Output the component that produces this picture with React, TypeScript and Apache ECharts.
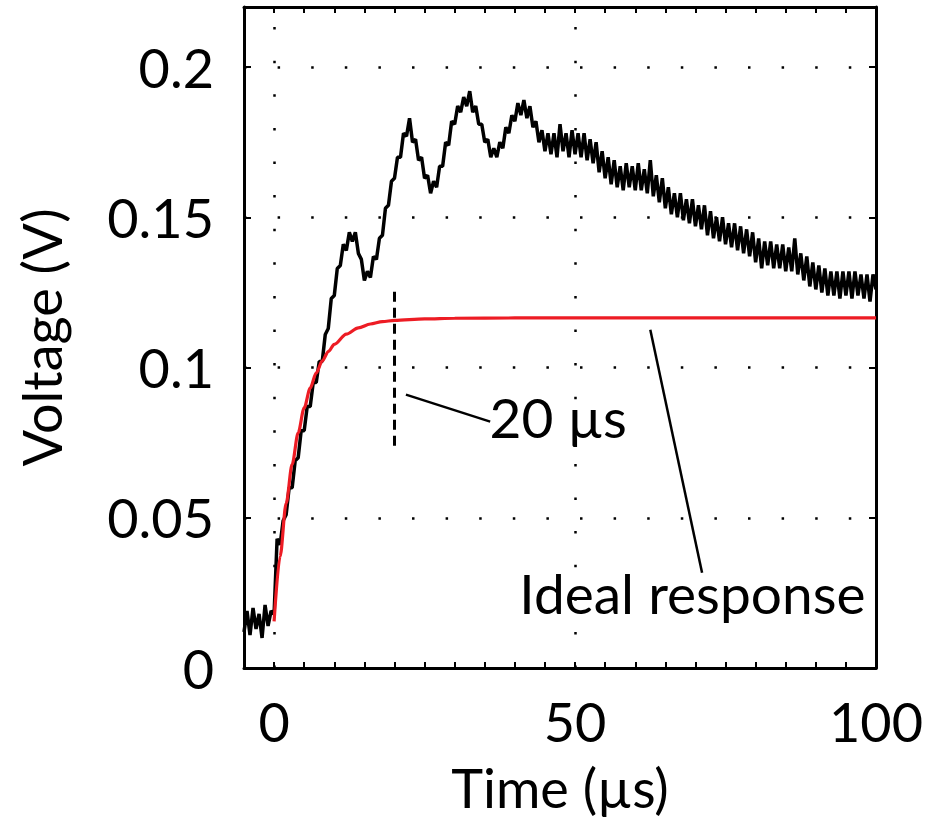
import React, { useEffect, useRef } from 'react';
import * as echarts from 'echarts';

// Measured trace, sampled every 0.5 µs from -5 µs
const sampleStartUs = -5;
const sampleStepUs = 0.5;
const measuredVoltage = [
  0.012, 0.019, 0.011, 0.020, 0.013, 0.018, 0.010, 0.021, 0.014, 0.019,
  0.018, 0.043, 0.041, 0.049, 0.051, 0.060, 0.060, 0.069, 0.070, 0.079,
  0.079, 0.087, 0.087, 0.095, 0.095, 0.102, 0.102, 0.111, 0.113, 0.123,
  0.124, 0.133, 0.134, 0.141, 0.139, 0.145, 0.142, 0.145, 0.138, 0.136,
  0.129, 0.132, 0.130, 0.137, 0.136, 0.143, 0.144, 0.153, 0.154, 0.162,
  0.163, 0.170, 0.170, 0.178, 0.177, 0.183, 0.175, 0.176, 0.169, 0.170,
  0.163, 0.164, 0.158, 0.162, 0.160, 0.167, 0.167, 0.175, 0.174, 0.182,
  0.181, 0.187, 0.185, 0.190, 0.187, 0.192, 0.185, 0.187, 0.181, 0.181,
  0.175, 0.176, 0.170, 0.173, 0.170, 0.175, 0.173, 0.180, 0.178, 0.184,
  0.182, 0.188, 0.184, 0.189, 0.183, 0.187, 0.180, 0.182, 0.175, 0.179,
  0.172, 0.178, 0.171, 0.178, 0.170, 0.181, 0.172, 0.178, 0.170, 0.179,
  0.171, 0.178, 0.170, 0.178, 0.169, 0.176, 0.168, 0.175, 0.165, 0.172,
  0.163, 0.170, 0.161, 0.169, 0.160, 0.167, 0.159, 0.168, 0.160, 0.167,
  0.159, 0.168, 0.159, 0.166, 0.158, 0.169, 0.157, 0.164, 0.155, 0.163,
  0.153, 0.160, 0.151, 0.158, 0.150, 0.158, 0.149, 0.156, 0.148, 0.156,
  0.147, 0.154, 0.146, 0.154, 0.144, 0.152, 0.143, 0.150, 0.142, 0.150,
  0.141, 0.148, 0.140, 0.148, 0.139, 0.147, 0.138, 0.146, 0.137, 0.145,
  0.135, 0.143, 0.133, 0.142, 0.134, 0.142, 0.133, 0.141, 0.133, 0.141,
  0.132, 0.140, 0.132, 0.143, 0.131, 0.138, 0.129, 0.137, 0.127, 0.135,
  0.126, 0.134, 0.125, 0.133, 0.124, 0.132, 0.124, 0.132, 0.123, 0.132,
  0.124, 0.132, 0.123, 0.132, 0.124, 0.131, 0.123, 0.131, 0.122, 0.131,
  0.126,
];

// Ideal response (red)
const idealTime = [0, 1, 2, 3, 4, 5, 6, 7, 8, 9, 10, 12, 14, 16, 18, 20, 25, 30, 40, 60, 100];
const idealVoltage = [
  0.0155, 0.0372, 0.0548, 0.0678, 0.0783, 0.0866, 0.0932, 0.0982, 0.1022, 0.1053,
  0.1077, 0.1111, 0.1132, 0.1145, 0.1153, 0.1157, 0.1162, 0.1164, 0.1165, 0.1165, 0.1165,
];

const xTickLabels = [0, 50, 100];
const yTickLabels = [0, 0.05, 0.1, 0.15, 0.2];
const dottedXGrid = [0, 50];

// Annotations (data coordinates)
const riseMarkerTime = 20;
const riseMarkerRange = [0.074, 0.126];
const riseLabel = '20 µs';
const riseLabelPos = [47.2, 0.0837];
const riseLeader = [[21.9, 0.091], [35.9, 0.082]];
const idealLabel = 'Ideal response';
const idealLabelPos = [69.5, 0.0251];
const idealLeader = [[62.5, 0.1126], [71.1, 0.0317]];

const FONT = 'Lato, "Open Sans", sans-serif';
const FS = 54;

export default function App() {
  const ref = useRef<HTMLDivElement>(null);
  useEffect(() => {
    const chart = echarts.init(ref.current!, null, { renderer: 'svg' });
    const measured = measuredVoltage.map((v, i) => [sampleStartUs + i * sampleStepUs, v]);
    const ideal = idealTime.map((t, i) => [t, idealVoltage[i]]);
    const dotted = { color: '#000', width: 2.5, type: [2.5, 31.1] as any };
    const axisLine = { show: true, onZero: false, lineStyle: { color: '#000', width: 3 } };
    const textStyle = { fontFamily: FONT, fontSize: FS, color: '#000' };

    const option: any = {
      animation: false,
      backgroundColor: '#fff',
      grid: { left: 244, top: 7, width: 636, height: 661, containLabel: false },
      xAxis: [
        {
          type: 'value', position: 'bottom', min: -5, max: 100, interval: 5,
          axisLine,
          axisTick: { show: true, inside: true, length: 6, lineStyle: { color: '#000', width: 2 } },
          axisLabel: {
            ...textStyle, margin: 26,
            formatter: (v: number) => (xTickLabels.some((t) => Math.abs(t - v) < 1e-9) ? String(v) : ''),
          },
          splitLine: { show: false },
          name: 'Time (µs)', nameLocation: 'middle', nameGap: 92,
          nameTextStyle: { ...textStyle },
        },
        {
          type: 'value', position: 'top', min: -5, max: 100, interval: 5,
          axisLine,
          axisTick: { show: true, inside: true, length: 6, lineStyle: { color: '#000', width: 2 } },
          axisLabel: { show: false },
          splitLine: { show: false },
        },
      ],
      yAxis: [
        {
          type: 'value', position: 'left', min: 0, max: 0.22, interval: 0.05,
          axisLine,
          axisTick: { show: true, inside: true, length: 7, lineStyle: { color: '#000', width: 2 } },
          axisLabel: {
            ...textStyle, margin: 30,
            formatter: (v: number) => {
              const t = yTickLabels.find((x) => Math.abs(x - v) < 1e-9);
              return t === undefined ? '' : String(t);
            },
          },
          splitLine: { show: true, lineStyle: dotted },
          name: 'Voltage (V)', nameLocation: 'middle', nameGap: 176, nameRotate: 90,
          nameTextStyle: { ...textStyle },
        },
        {
          type: 'value', position: 'right', min: 0, max: 0.22, interval: 0.05,
          axisLine,
          axisTick: { show: true, inside: true, length: 7, lineStyle: { color: '#000', width: 2 } },
          axisLabel: { show: false },
          splitLine: { show: false },
        },
      ],
      series: [
        {
          type: 'line', name: 'Measured', xAxisIndex: 0, yAxisIndex: 0,
          data: measured, showSymbol: false, symbol: 'none', silent: true, z: 3,
          lineStyle: { color: '#000', width: 3.5 },
          markLine: {
            silent: true, symbol: ['none', 'none'], label: { show: false }, animation: false,
            data: [
              ...dottedXGrid.map((x) => ({ xAxis: x, lineStyle: dotted })),
              [
                { coord: [riseMarkerTime, riseMarkerRange[0]], lineStyle: { color: '#000', width: 3, type: [10, 6] } },
                { coord: [riseMarkerTime, riseMarkerRange[1]] },
              ],
            ],
          },
        },
        {
          type: 'line', name: 'Ideal response', xAxisIndex: 0, yAxisIndex: 0,
          data: ideal, showSymbol: false, symbol: 'none', silent: true, z: 5,
          smooth: 0.3, smoothMonotone: 'x',
          lineStyle: { color: '#ed1c24', width: 3.2 },
          markLine: {
            silent: true, symbol: ['none', 'none'], label: { show: false }, animation: false,
            data: [
              [
                { coord: riseLeader[0], lineStyle: { color: '#000', width: 2.5, type: 'solid' } },
                { coord: riseLeader[1] },
              ],
              [
                { coord: idealLeader[0], lineStyle: { color: '#000', width: 2.5, type: 'solid' } },
                { coord: idealLeader[1] },
              ],
            ],
          },
          markPoint: {
            silent: true, symbol: 'circle', symbolSize: 0, animation: false,
            label: { show: true, position: 'inside', formatter: '{b}', ...textStyle, fontSize: 55 },
            data: [
              { name: riseLabel, coord: riseLabelPos },
              { name: idealLabel, coord: idealLabelPos },
            ],
          },
        },
      ],
    };
    chart.setOption(option);
    return () => chart.dispose();
  }, []);
  return (
    <div
      ref={ref}
      style={{ position: 'absolute', left: 0, top: 0, width: 926, height: 823, background: '#fff' }}
    />
  );
}
